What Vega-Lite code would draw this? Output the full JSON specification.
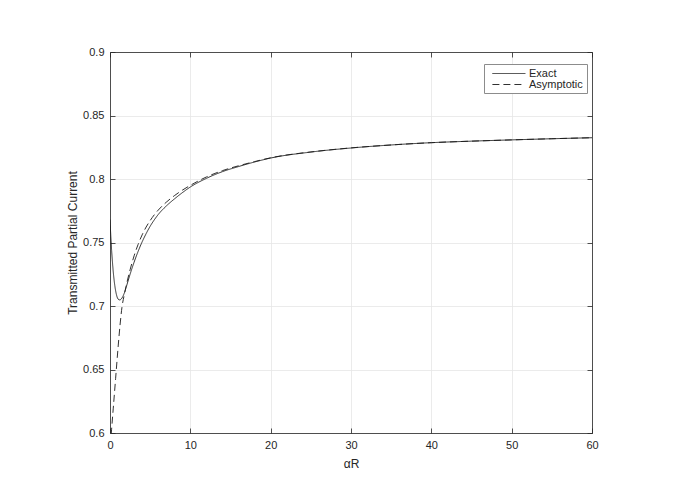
{
  "$schema": "https://vega.github.io/schema/vega-lite/v6.json",
  "width": 482,
  "height": 381,
  "autosize": "none",
  "padding": {"left": 110, "top": 52, "right": 88, "bottom": 71},
  "background": "white",
  "config": {
    "view": {"stroke": null},
    "axis": {
      "labelFont": "Liberation Sans",
      "titleFont": "Liberation Sans",
      "labelFontSize": 11,
      "titleFontSize": 12,
      "titleFontWeight": "normal",
      "labelColor": "#262626",
      "titleColor": "#262626",
      "domainColor": "#262626",
      "tickColor": "#262626",
      "gridColor": "#e6e6e6",
      "gridWidth": 0.8,
      "domainWidth": 0.8,
      "tickWidth": 0.8,
      "tickSize": -5,
      "labelFlush": false
    },
    "legend": {
      "labelFont": "Liberation Sans",
      "labelFontSize": 11,
      "labelColor": "#262626"
    }
  },
  "data": {
    "values": [
      {"x": 0, "y": 0.768, "series": "Exact"},
      {"x": 0.1, "y": 0.755, "series": "Exact"},
      {"x": 0.2, "y": 0.744, "series": "Exact"},
      {"x": 0.3, "y": 0.735, "series": "Exact"},
      {"x": 0.45, "y": 0.724, "series": "Exact"},
      {"x": 0.6, "y": 0.716, "series": "Exact"},
      {"x": 0.8, "y": 0.709, "series": "Exact"},
      {"x": 1.0, "y": 0.7055, "series": "Exact"},
      {"x": 1.2, "y": 0.7048, "series": "Exact"},
      {"x": 1.4, "y": 0.7055, "series": "Exact"},
      {"x": 1.6, "y": 0.7075, "series": "Exact"},
      {"x": 1.8, "y": 0.7105, "series": "Exact"},
      {"x": 2.0, "y": 0.7145, "series": "Exact"},
      {"x": 2.5, "y": 0.725, "series": "Exact"},
      {"x": 3.0, "y": 0.7345, "series": "Exact"},
      {"x": 3.5, "y": 0.743, "series": "Exact"},
      {"x": 4.0, "y": 0.7505, "series": "Exact"},
      {"x": 4.5, "y": 0.757, "series": "Exact"},
      {"x": 5.0, "y": 0.7628, "series": "Exact"},
      {"x": 5.5, "y": 0.7677, "series": "Exact"},
      {"x": 6.0, "y": 0.772, "series": "Exact"},
      {"x": 7.0, "y": 0.7787, "series": "Exact"},
      {"x": 8.0, "y": 0.7842, "series": "Exact"},
      {"x": 9.0, "y": 0.7892, "series": "Exact"},
      {"x": 10, "y": 0.7937, "series": "Exact"},
      {"x": 12, "y": 0.8005, "series": "Exact"},
      {"x": 14, "y": 0.8058, "series": "Exact"},
      {"x": 16, "y": 0.8098, "series": "Exact"},
      {"x": 18, "y": 0.8134, "series": "Exact"},
      {"x": 20, "y": 0.8165, "series": "Exact"},
      {"x": 25, "y": 0.8212, "series": "Exact"},
      {"x": 30, "y": 0.8244, "series": "Exact"},
      {"x": 35, "y": 0.8268, "series": "Exact"},
      {"x": 40, "y": 0.8286, "series": "Exact"},
      {"x": 45, "y": 0.8298, "series": "Exact"},
      {"x": 50, "y": 0.8308, "series": "Exact"},
      {"x": 55, "y": 0.8317, "series": "Exact"},
      {"x": 60, "y": 0.8325, "series": "Exact"},
      {"x": 0.05, "y": 0.59, "series": "Asymptotic"},
      {"x": 0.2, "y": 0.603, "series": "Asymptotic"},
      {"x": 0.4, "y": 0.619, "series": "Asymptotic"},
      {"x": 0.7, "y": 0.643, "series": "Asymptotic"},
      {"x": 1.0, "y": 0.667, "series": "Asymptotic"},
      {"x": 1.25, "y": 0.685, "series": "Asymptotic"},
      {"x": 1.5, "y": 0.6995, "series": "Asymptotic"},
      {"x": 1.75, "y": 0.708, "series": "Asymptotic"},
      {"x": 2.0, "y": 0.7155, "series": "Asymptotic"},
      {"x": 2.5, "y": 0.7285, "series": "Asymptotic"},
      {"x": 3.0, "y": 0.7395, "series": "Asymptotic"},
      {"x": 3.5, "y": 0.7485, "series": "Asymptotic"},
      {"x": 4.0, "y": 0.756, "series": "Asymptotic"},
      {"x": 4.5, "y": 0.7622, "series": "Asymptotic"},
      {"x": 5.0, "y": 0.7673, "series": "Asymptotic"},
      {"x": 5.5, "y": 0.7717, "series": "Asymptotic"},
      {"x": 6.0, "y": 0.7755, "series": "Asymptotic"},
      {"x": 7.0, "y": 0.7817, "series": "Asymptotic"},
      {"x": 8.0, "y": 0.7868, "series": "Asymptotic"},
      {"x": 9.0, "y": 0.7912, "series": "Asymptotic"},
      {"x": 10, "y": 0.795, "series": "Asymptotic"},
      {"x": 12, "y": 0.8016, "series": "Asymptotic"},
      {"x": 14, "y": 0.8066, "series": "Asymptotic"},
      {"x": 16, "y": 0.8104, "series": "Asymptotic"},
      {"x": 18, "y": 0.8137, "series": "Asymptotic"},
      {"x": 20, "y": 0.8167, "series": "Asymptotic"},
      {"x": 25, "y": 0.8213, "series": "Asymptotic"},
      {"x": 30, "y": 0.8245, "series": "Asymptotic"},
      {"x": 35, "y": 0.8268, "series": "Asymptotic"},
      {"x": 40, "y": 0.8286, "series": "Asymptotic"},
      {"x": 45, "y": 0.8298, "series": "Asymptotic"},
      {"x": 50, "y": 0.8308, "series": "Asymptotic"},
      {"x": 55, "y": 0.8317, "series": "Asymptotic"},
      {"x": 60, "y": 0.8325, "series": "Asymptotic"}
    ]
  },
  "layer": [
    {
      "mark": {"type": "line", "clip": true, "strokeWidth": 0.9, "interpolate": "monotone"},
      "encoding": {
        "x": {
          "field": "x", "type": "quantitative",
          "scale": {"domain": [0, 60], "nice": false},
          "axis": {"values": [0, 10, 20, 30, 40, 50, 60], "title": "αR", "grid": true, "labelPadding": 11, "titlePadding": 8, "format": "d"}
        },
        "y": {
          "field": "y", "type": "quantitative",
          "scale": {"domain": [0.6, 0.9], "nice": false, "zero": false},
          "axis": {"values": [0.6, 0.65, 0.7, 0.75, 0.8, 0.85, 0.9], "title": "Transmitted Partial Current", "grid": true, "labelPadding": 11, "titlePadding": 3, "format": "~r"}
        },
        "color": {
          "field": "series", "type": "nominal",
          "scale": {"domain": ["Exact", "Asymptotic"], "range": ["#1a1a1a", "#1a1a1a"]},
          "legend": {
            "title": null, "orient": "none", "legendX": 374, "legendY": 12,
            "symbolType": "M-0.2,0H5.8", "symbolSize": 121, "symbolStrokeWidth": 0.9,
            "labelOffset": 29.5, "padding": 3.5, "rowPadding": -1,
            "strokeColor": "#8c8c8c", "fillColor": "white"
          }
        },
        "strokeDash": {
          "field": "series", "type": "nominal",
          "scale": {"domain": ["Exact", "Asymptotic"], "range": [[1, 0], [7, 4]]},
          "legend": {
            "title": null, "orient": "none", "legendX": 374, "legendY": 12,
            "symbolType": "M-0.2,0H5.8", "symbolSize": 121, "symbolStrokeWidth": 0.9,
            "labelOffset": 29.5, "padding": 3.5, "rowPadding": -1,
            "strokeColor": "#8c8c8c", "fillColor": "white"
          }
        }
      }
    },
    {
      "mark": {"type": "point", "opacity": 0},
      "encoding": {
        "x": {
          "field": "x", "type": "quantitative",
          "scale": {"domain": [0, 60], "nice": false},
          "axis": {"orient": "top", "values": [0, 10, 20, 30, 40, 50, 60], "labels": false, "grid": false, "title": null}
        },
        "y": {
          "field": "y", "type": "quantitative",
          "scale": {"domain": [0.6, 0.9], "nice": false, "zero": false},
          "axis": {"orient": "right", "values": [0.6, 0.65, 0.7, 0.75, 0.8, 0.85, 0.9], "labels": false, "grid": false, "title": null}
        }
      }
    }
  ],
  "resolve": {"axis": {"x": "independent", "y": "independent"}}
}
